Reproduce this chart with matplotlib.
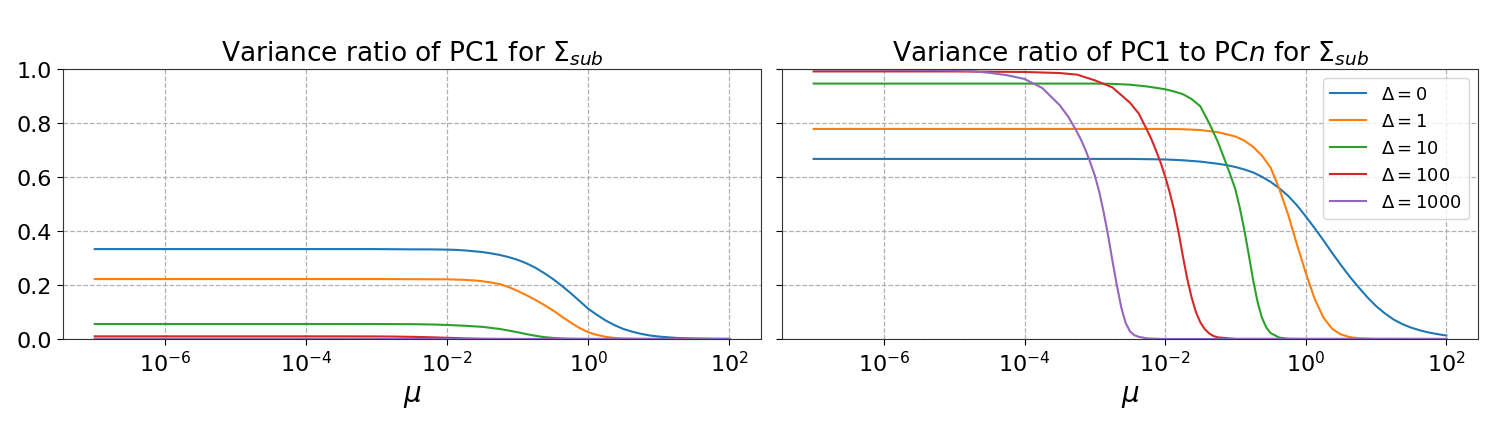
import numpy as np
import matplotlib
matplotlib.use('Agg')
import matplotlib.pyplot as plt
from matplotlib.ticker import NullLocator, FixedLocator

# %%
# values, x given as log10(mu)
labels = [r'$\Delta=0$', r'$\Delta=1$', r'$\Delta=10$', r'$\Delta=100$', r'$\Delta=1000$']

# left panel: variance ratio of PC1
L0_x = [-7, -5, -3, -2.5, -2.25, -2, -1.875, -1.75, -1.625, -1.5, -1.375, -1.25, -1.125, -1, -0.875, -0.75, -0.625,
        -0.5, -0.375, -0.25, -0.125, 0, 0.125, 0.25, 0.375, 0.5, 0.625, 0.75, 0.875, 1, 1.25, 1.5, 1.75, 2]
L0_y = [0.333, 0.333, 0.333, 0.332, 0.332, 0.331, 0.330, 0.328, 0.325, 0.322, 0.317, 0.311, 0.303, 0.293, 0.280, 0.264, 0.244,
        0.222, 0.197, 0.170, 0.141, 0.112, 0.089, 0.068, 0.051, 0.037, 0.027, 0.019, 0.013, 0.009, 0.004, 0.002, 0.001, 0.0005]
L1_x = [-7, -5, -3, -2.5, -2, -1.75, -1.625, -1.5, -1.375, -1.25, -1.125, -1, -0.875, -0.75, -0.625, -0.5, -0.375,
        -0.25, -0.125, 0, 0.125, 0.25, 0.375, 0.5, 0.75, 1, 2]
L1_y = [0.222, 0.222, 0.222, 0.2215, 0.221, 0.219, 0.217, 0.214, 0.209, 0.203, 0.192, 0.178, 0.162, 0.145, 0.126, 0.106, 0.083,
        0.061, 0.041, 0.025, 0.015, 0.008, 0.004, 0.002, 0.0005, 0.0001, 0.0]
L10_x = [-7, -5, -3, -2.5, -2.25, -2, -1.75, -1.625, -1.5, -1.375, -1.25, -1.125, -1, -0.875, -0.75, -0.625, -0.5, -0.375,
         -0.25, 0, 2]
L10_y = [0.0556, 0.0556, 0.0555, 0.055, 0.054, 0.052, 0.049, 0.047, 0.045, 0.041, 0.037, 0.031, 0.025, 0.018, 0.012, 0.007,
         0.004, 0.002, 0.001, 0.0002, 0.0]
L100_x = [-7, -5, -3.5, -3, -2.75, -2.5, -2.25, -2, -1.75, -1.5, -1.25, -1, 2]
L100_y = [0.0099, 0.0099, 0.0098, 0.0095, 0.009, 0.008, 0.0065, 0.0045, 0.0023, 0.0009, 0.0003, 0.0001, 0.0]
L1000_x = [-7, -5, -4.5, -4, -3.75, -3.5, -3.25, -3, -2.75, -2.5, 2]
L1000_y = [0.001, 0.001, 0.00098, 0.00094, 0.0009, 0.0008, 0.00065, 0.00045, 0.00023, 0.00009, 0.0]

# right panel: variance ratio of PC1 to PCn
R0_x = [-7, -5, -3, -2.5, -2.25, -2, -1.75, -1.5, -1.25, -1.125, -1, -0.875, -0.75, -0.625, -0.5, -0.375, -0.25, -0.125,
        0, 0.125, 0.25, 0.375, 0.5, 0.625, 0.75, 0.875, 1, 1.125, 1.25, 1.375, 1.5, 1.625, 1.75, 1.875, 2]
R0_y = [0.667, 0.667, 0.667, 0.667, 0.666, 0.665, 0.662, 0.657, 0.649, 0.644, 0.637, 0.628, 0.617, 0.601, 0.582, 0.558, 0.530, 0.495,
        0.454, 0.411, 0.366, 0.319, 0.274, 0.231, 0.192, 0.155, 0.122, 0.095, 0.072, 0.055, 0.042, 0.032, 0.024, 0.018, 0.013]
R1_x = [-7, -5, -3, -2, -1.75, -1.5, -1.25, -1, -0.875, -0.75, -0.625, -0.5, -0.375, -0.25, -0.125, 0, 0.125, 0.25, 0.375,
        0.5, 0.625, 0.75, 1, 2]
R1_y = [0.778, 0.778, 0.778, 0.778, 0.777, 0.774, 0.766, 0.750, 0.735, 0.712, 0.680, 0.635, 0.555, 0.46, 0.35, 0.245, 0.15, 0.080, 0.038,
        0.017, 0.007, 0.003, 0.0005, 0.0]
R10_x = [-7, -5, -3, -2.75, -2.5, -2.25, -2, -1.875, -1.75, -1.625, -1.5, -1.375, -1.25, -1.125, -1.0625, -1, -0.9375, -0.875,
         -0.8125, -0.75, -0.6875, -0.625, -0.5625, -0.5, -0.375, -0.25, 0, 2]
R10_y = [0.946, 0.946, 0.946, 0.945, 0.942, 0.935, 0.925, 0.917, 0.907, 0.889, 0.862, 0.80, 0.73, 0.645, 0.60, 0.553, 0.485, 0.405,
         0.315, 0.22, 0.14, 0.08, 0.043, 0.022, 0.005, 0.001, 0.0, 0.0]
R100_x = [-7, -5, -4, -3.5, -3.25, -3, -2.75, -2.5, -2.375, -2.25, -2.1875, -2.125, -2.0625, -2, -1.9375, -1.875, -1.8125,
          -1.75, -1.6875, -1.625, -1.5625, -1.5, -1.4375, -1.375, -1.3125, -1.25, -1, 2]
R100_y = [0.991, 0.991, 0.989, 0.985, 0.979, 0.958, 0.932, 0.875, 0.835, 0.77, 0.735, 0.695, 0.652, 0.602, 0.545, 0.48, 0.40,
          0.31, 0.225, 0.155, 0.10, 0.062, 0.037, 0.021, 0.011, 0.006, 0.0005, 0.0]
R1000_x = [-7, -6, -5.5, -5, -4.75, -4.5, -4.25, -4, -3.75, -3.5, -3.375, -3.25, -3.1875, -3.125, -3.0625, -3, -2.9375, -2.875,
           -2.8125, -2.75, -2.6875, -2.625, -2.5625, -2.5, -2.4375, -2.375, -2.25, -2, 2]
R1000_y = [0.998, 0.998, 0.997, 0.995, 0.992, 0.986, 0.977, 0.963, 0.930, 0.866, 0.822, 0.765, 0.733, 0.695, 0.652, 0.605, 0.545, 0.47,
           0.385, 0.29, 0.20, 0.118, 0.06, 0.028, 0.014, 0.008, 0.002, 0.0, 0.0]

left_series = [(L0_x, L0_y), (L1_x, L1_y), (L10_x, L10_y), (L100_x, L100_y), (L1000_x, L1000_y)]
right_series = [(R0_x, R0_y), (R1_x, R1_y), (R10_x, R10_y), (R100_x, R100_y), (R1000_x, R1000_y)]

# %%
plt.rcParams['axes.edgecolor'] = '#333333'
plt.rcParams['mathtext.fontset'] = 'dejavusans'

fig = plt.figure(figsize=(14.95, 4.27), dpi=100)
ax1 = fig.add_axes([63/1495, 87/427, 698/1495, 270/427])
ax2 = fig.add_axes([782/1495, 87/427, 696/1495, 270/427], sharey=ax1)

for ax, series in [(ax1, left_series), (ax2, right_series)]:
    for (lx, y), lab in zip(series, labels):
        ax.plot(10.0**np.array(lx), y, lw=1.5, label=lab)
    ax.set_xscale('log')
    ax.xaxis.set_major_locator(FixedLocator([1e-6, 1e-4, 1e-2, 1e0, 1e2]))
    ax.xaxis.set_minor_locator(NullLocator())
    ax.set_xlim(10**-7.45, 10**2.45)
    ax.set_ylim(0, 1)
    ax.grid(True, ls='--', color='#b0b0b0', lw=0.9)
    ax.tick_params(labelsize=16, length=4.5)
    ax.set_xlabel(r'$\mu$', fontsize=20)

ax1.set_yticks([0, 0.2, 0.4, 0.6, 0.8, 1.0])
ax2.tick_params(labelleft=False)
ax1.set_title(r'Variance ratio of PC1 for $\Sigma_{sub}$', fontsize=19)
ax2.set_title(r'Variance ratio of PC1 to PC$n$ for $\Sigma_{sub}$', fontsize=19)
ax2.legend(loc='upper right', fontsize=13)

fig.savefig('out.png', dpi=100)
